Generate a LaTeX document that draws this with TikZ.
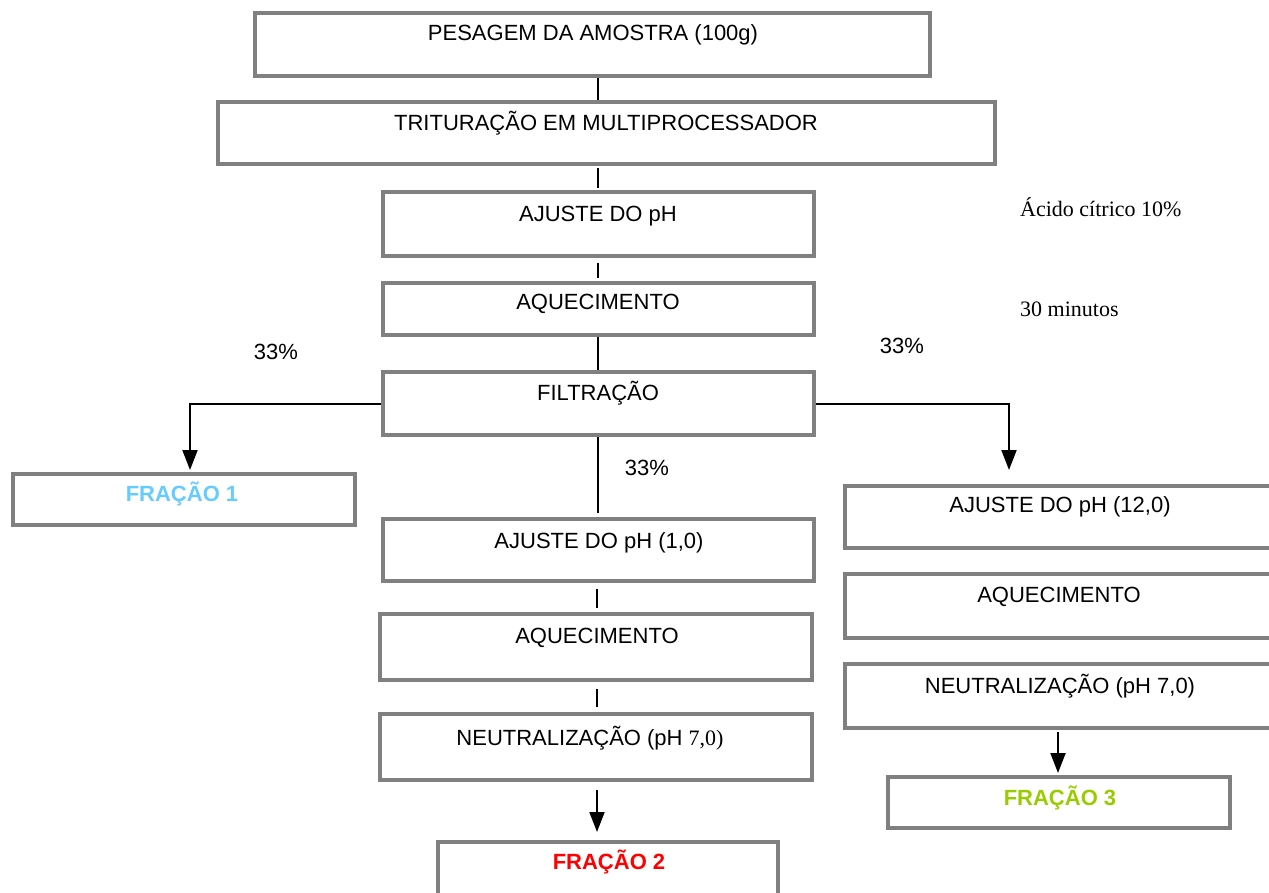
\documentclass[tikz,border=0pt]{standalone}
\usepackage{fontspec}
\setmainfont{Liberation Sans}
\newfontfamily\serifTNR{Liberation Serif}
\usetikzlibrary{arrows.meta,backgrounds}
\definecolor{boxgray}{RGB}{128,128,128}
\definecolor{fracblue}{RGB}{102,204,255}
\definecolor{fracred}{RGB}{255,0,0}
\definecolor{fracgreen}{RGB}{153,204,0}
\tikzset{
  stepbox/.style={draw=boxgray, line width=4pt, fill=white, inner sep=0pt, rectangle},
  lbl/.style={inner sep=0pt, anchor=base, font=\fontsize{22}{26}\selectfont},
  note/.style={inner sep=0pt, anchor=base west, font=\serifTNR\fontsize{22}{26}\selectfont},
  conn/.style={draw=black, line width=2pt},
  arr/.style={conn, -{Triangle[width=15pt,length=20pt]}},
}
% box macro: name, x1, y1, x2, y2 (pixel coords, y downwards)
\newcommand{\mybox}[5]{%
  \node[stepbox, minimum width={#4-#2}, minimum height={#5-#3}] (#1) at ({(#2+#4)/2},{(#3+#5)/2}) {};}
\begin{document}
\begin{tikzpicture}[x=1pt,y=-1pt]
\useasboundingbox (0,0) rectangle (1269,893);
% boxes
\mybox{pes}{255}{13}{930}{76}
\mybox{tri}{218}{102}{995}{164}
\mybox{aj}{383}{192}{814}{256}
\mybox{aq}{383}{283}{814}{335}
\mybox{fil}{383}{372}{814}{435}
\mybox{fa}{13}{474}{355}{525}
\mybox{ajm}{383}{519}{814}{581}
\mybox{aqm}{380}{614}{812}{680}
\mybox{nem}{380}{714}{812}{780}
\mybox{fb}{438}{842}{778}{910}
\mybox{ajr}{845}{486}{1285}{548}
\mybox{aqr}{845}{574}{1285}{638}
\mybox{ner}{845}{664}{1285}{728}
\mybox{fc}{888}{777}{1230}{828}
% texts
\node[lbl] (tpes) at (593,40.5) {PESAGEM DA AMOSTRA (100g)};
\node[lbl] (ttri) at (606,130.5) {TRITURAÇÃO EM MULTIPROCESSADOR};
\node[lbl] (taj) at (598,221.5) {AJUSTE DO pH};
\node[lbl] (taq) at (598,309.5) {AQUECIMENTO};
\node[lbl] (tfil) at (598,400.5) {FILTRAÇÃO};
\node[lbl, text=fracblue, font=\bfseries\fontsize{22}{26}\selectfont] (tfa) at (182,501.5) {FRAÇÃO 1};
\node[lbl] (tajm) at (599,548.5) {AJUSTE DO pH (1,0)};
\node[lbl] (taqm) at (597,643.5) {AQUECIMENTO};
\node[lbl] (tnem) at (590,745.5) {NEUTRALIZAÇÃO (pH {\serifTNR 7,0)}};
\node[lbl, text=fracred, font=\bfseries\fontsize{22}{26}\selectfont] (tfb) at (609,869.5) {FRAÇÃO 2};
\node[lbl] (tajr) at (1060,512.5) {AJUSTE DO pH (12,0)};
\node[lbl] (taqr) at (1059,602.5) {AQUECIMENTO};
\node[lbl] (tner) at (1060,693.5) {NEUTRALIZAÇÃO (pH 7,0)};
\node[lbl, text=fracgreen, font=\bfseries\fontsize{22}{26}\selectfont] (tfc) at (1060,805.5) {FRAÇÃO 3};
% side labels
\node[lbl] (pl) at (276,359.5) {33\%};
\node[lbl] (pr) at (902,353.5) {33\%};
\node[lbl] (pm) at (647,475.5) {33\%};
\node[note] (acid) at (1020,216.5) {Ácido cítrico 10\%};
\node[note] (mins) at (1020,316.5) {30 minutos};
% connectors (behind boxes)
\coordinate (cx) at (598,0);
\coordinate (cxl) at (190,0);
\coordinate (cxr) at (1009,0);
\coordinate (cxm) at (597,0);
\coordinate (cxf) at (1058,0);
\begin{scope}[on background layer]
\draw[conn] (pes.south -| cx) -- (tri.north -| cx);
\draw[conn, shorten <=2pt, shorten >=2pt] (tri.south -| cx) -- (aj.north -| cx);
\draw[conn, shorten <=5pt, shorten >=3pt] (aj.south -| cx) -- (aq.north -| cx);
\draw[conn] (aq.south -| cx) -- (fil.north -| cx);
\draw[conn] (fil.south -| cx) -- ([yshift=4pt]ajm.north -| cx);
\draw[conn, shorten <=6pt, shorten >=4pt] (ajm.south -| cxm) -- (aqm.north -| cxm);
\draw[conn, shorten <=7pt, shorten >=5pt] (aqm.south -| cxm) -- (nem.north -| cxm);
\end{scope}
\draw[arr] (fil.west) -- (fil.west -| cxl) -- ([yshift=2pt]fa.north -| cxl);
\draw[arr] (fil.east) -- (fil.east -| cxr) -- ([yshift=14pt]ajr.north -| cxr);
\draw[arr, shorten <=8pt] (nem.south -| cxm) -- ([yshift=8pt]fb.north -| cxm);
\draw[arr, shorten <=2pt] (ner.south -| cxf) -- ([yshift=2pt]fc.north -| cxf);
\end{tikzpicture}
\end{document}
